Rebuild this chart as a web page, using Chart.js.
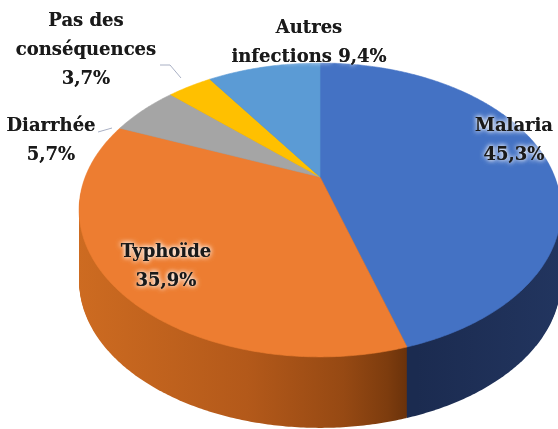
<!DOCTYPE html>
<html>
<head>
<meta charset="utf-8">
<script src="https://cdn.jsdelivr.net/npm/chart.js@4.4.1/dist/chart.umd.min.js"></script>
<style>
  html, body { margin: 0; padding: 0; background: #fff; }
  #wrap { width: 558px; height: 429px; overflow: hidden; position: relative; }
  #wrap canvas { position: absolute; left: 0; top: 0; }
</style>
</head>
<body>
<div id="wrap"><canvas id="pieChart" width="640" height="545"></canvas></div>
<script>
// data
const labels = ['Malaria', 'Typhoïde', 'Diarrhée', 'Pas des conséquences', 'Autres infections'];
const values = [45.3, 35.9, 5.7, 3.7, 9.4];
const labelLines = [
  ['Malaria', '45,3%'],
  ['Typhoïde', '35,9%'],
  ['Diarrhée', '5,7%'],
  ['Pas des', 'conséquences', '3,7%'],
  ['Autres', 'infections 9,4%']
];

// colours
const topColors = ['#4472C4', '#ED7D31', '#A5A5A5', '#FFC000', '#5B9BD5'];
const wallStops = [
  [[0, '#1b2b50'], [0.7, '#1b2b50'], [1, '#22355f']],
  [[0, '#cd6b21'], [0.35, '#b3591a'], [0.55, '#964913'], [0.64, '#7d3c0e'], [0.68, '#6a320b']],
  [[0, '#6e6e6e'], [1, '#6e6e6e']],
  [[0, '#a57c00'], [1, '#a57c00']],
  [[0, '#3a6694'], [1, '#3a6694']]
];

// label layout (centre x, first line centre y) and leader lines
const labelPos = [[514, 126], [166, 252], [51, 126], [86, 21], [309, 28]];
const leaders = [[[98, 132], [112, 128]], [[160, 65], [170, 65], [181, 78]]];
const lineHeight = 29;

// 3D view: perspective squash of the disc + thickness
const kx = 0.974, ky = 0.579, persp = -0.2245;
const depth = 71;

// maps the library's arc (centre, radius, angle) onto the tilted disc
function project(arc, angle, apexY, d) {
  const u = Math.cos(angle), v = Math.sin(angle);
  const den = 1 + persp * v;
  return [arc.x + arc.outerRadius * kx * u / den, apexY + arc.outerRadius * ky * v / den + d];
}

function slicePath(ctx, arc, apexY, d) {
  ctx.beginPath();
  ctx.moveTo(arc.x, apexY + d);
  const n = Math.max(2, Math.ceil((arc.endAngle - arc.startAngle) / 0.01));
  for (let k = 0; k <= n; k++) {
    const a = arc.startAngle + (arc.endAngle - arc.startAngle) * k / n;
    const p = project(arc, a, apexY, d);
    ctx.lineTo(p[0], p[1]);
  }
  ctx.closePath();
}

const pie3d = {
  id: 'pie3d',
  beforeDatasetsDraw(chart) {
    const ctx = chart.ctx;
    const arcs = chart.getDatasetMeta(0).data;
    const a0 = arcs[0];
    const topY = a0.y - a0.outerRadius;
    const apexY = topY + a0.outerRadius * ky / (1 - persp);

    const fills = arcs.map((arc, i) => {
      const g = ctx.createLinearGradient(arc.x - arc.outerRadius, 0, arc.x + arc.outerRadius, 0);
      wallStops[i].forEach(s => g.addColorStop(s[0], s[1]));
      return g;
    });

    // side walls: stacked copies, deepest first
    for (let d = depth; d > 0; d--) {
      arcs.forEach((arc, i) => {
        slicePath(ctx, arc, apexY, d);
        ctx.fillStyle = fills[i];
        ctx.fill();
      });
    }

    // top face
    arcs.forEach(arc => {
      slicePath(ctx, arc, apexY, 0);
      ctx.fillStyle = arc.options.backgroundColor;
      ctx.strokeStyle = arc.options.backgroundColor;
      ctx.lineWidth = 0.6;
      ctx.fill();
      ctx.stroke();
    });
    return false;
  },
  afterDraw(chart) {
    const ctx = chart.ctx;

    // leader lines
    ctx.save();
    ctx.strokeStyle = '#a9b0c4';
    ctx.lineWidth = 1;
    leaders.forEach(pts => {
      ctx.beginPath();
      pts.forEach((p, j) => j ? ctx.lineTo(p[0], p[1]) : ctx.moveTo(p[0], p[1]));
      ctx.stroke();
    });
    ctx.restore();

    // labels with a white halo
    ctx.save();
    ctx.font = 'bold 18px "DejaVu Serif"';
    ctx.textAlign = 'center';
    ctx.textBaseline = 'middle';
    labelLines.forEach((lines, i) => {
      lines.forEach((txt, j) => {
        const x = labelPos[i][0];
        const y = labelPos[i][1] + j * lineHeight;
        ctx.shadowColor = 'rgba(255,255,255,0.95)';
        ctx.shadowBlur = 5;
        ctx.fillStyle = '#1a1a1a';
        ctx.fillText(txt, x, y);
        ctx.fillText(txt, x, y);
      });
    });
    ctx.restore();
  }
};

const ctx = document.getElementById('pieChart').getContext('2d');
new Chart(ctx, {
  type: 'pie',
  data: {
    labels: labels,
    datasets: [{
      data: values,
      backgroundColor: topColors,
      borderWidth: 0,
      hoverOffset: 0,
      offset: 0
    }]
  },
  options: {
    responsive: false,
    animation: false,
    layout: { padding: { top: 63, left: 79, right: 79, bottom: 0 } },
    plugins: {
      legend: { display: false },
      tooltip: { enabled: false }
    }
  },
  plugins: [pie3d]
});
</script>
</body>
</html>
